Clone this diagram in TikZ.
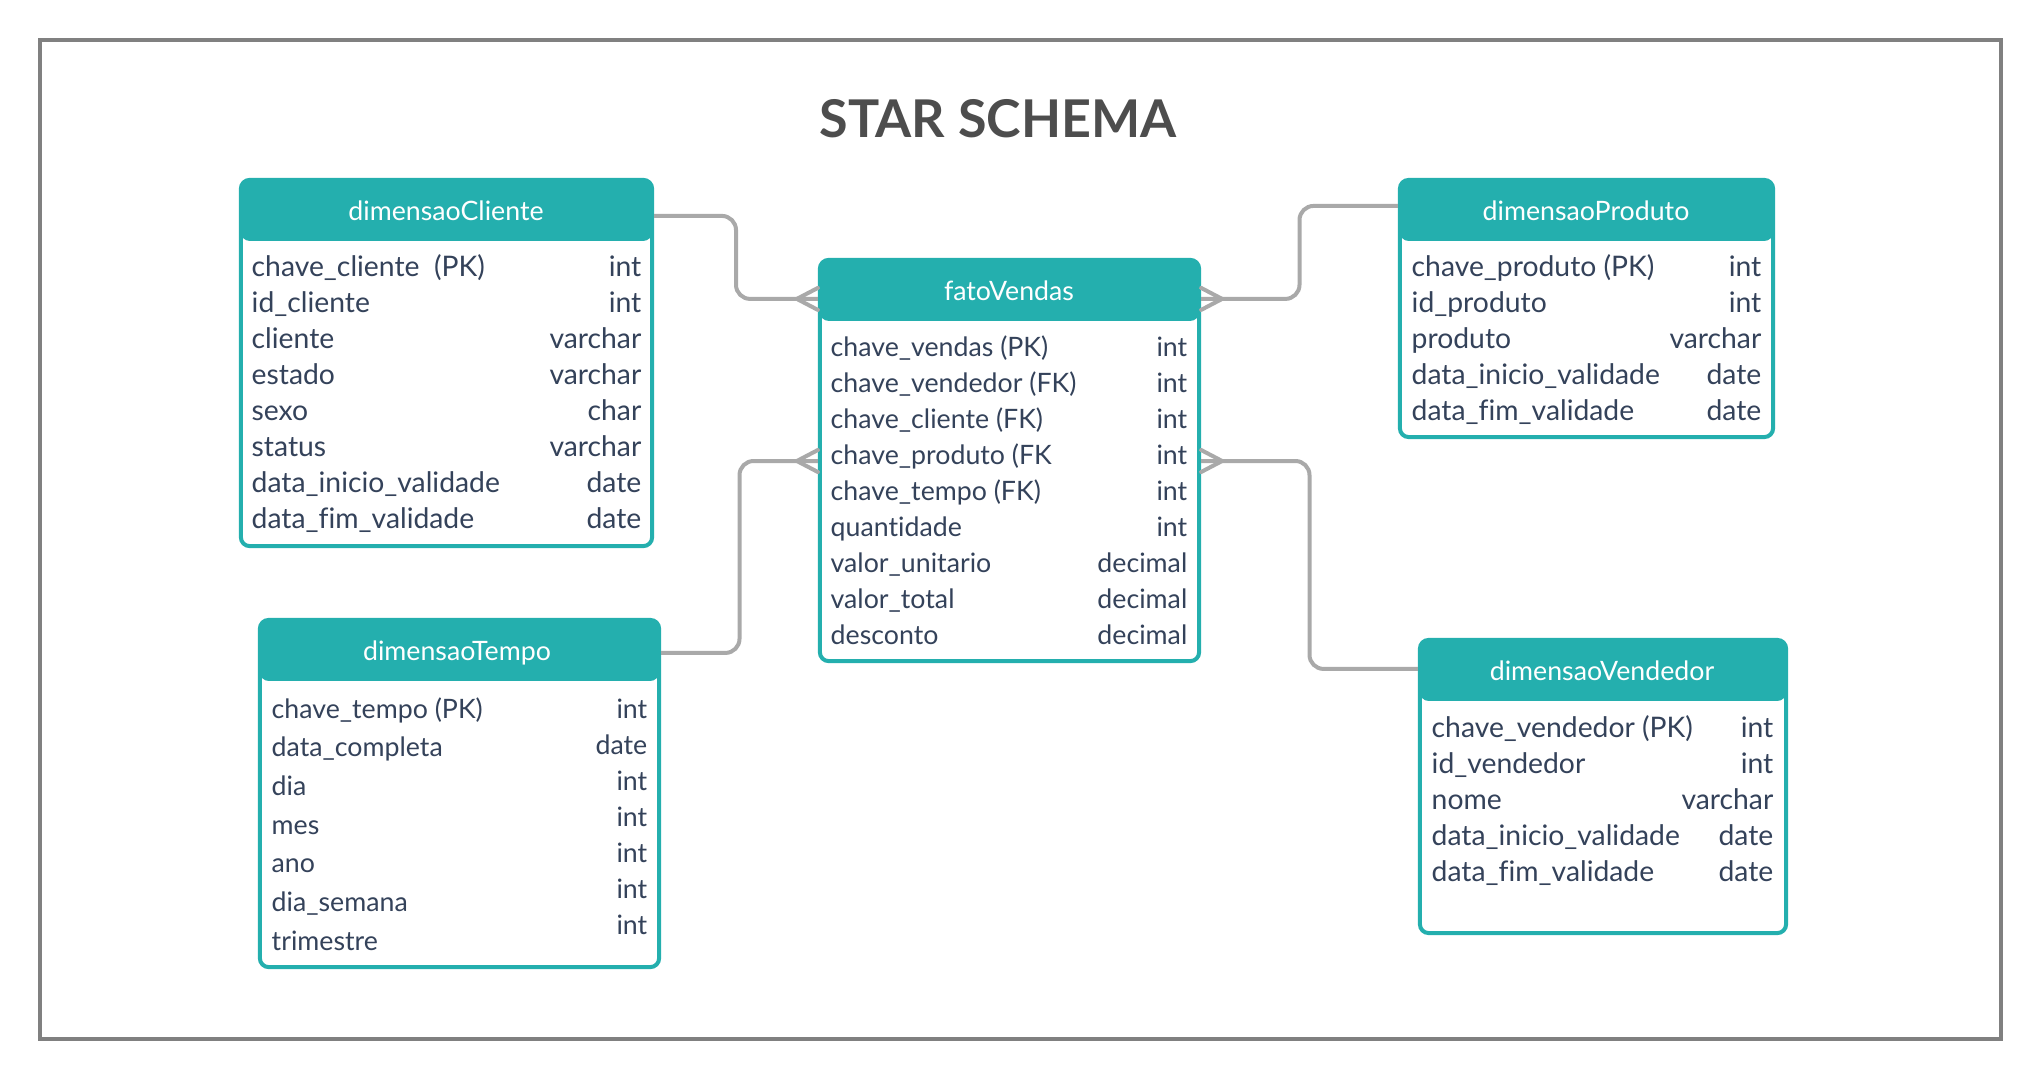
\documentclass[tikz,border=0pt]{standalone}
\usepackage{fontspec}
\setmainfont{Lato}[Ligatures=NoCommon]
\usepackage{tikz}
\usetikzlibrary{calc}
\definecolor{tealbox}{HTML}{24AFAE}
\definecolor{ink}{HTML}{34425A}
\definecolor{linkgray}{HTML}{A9A9A9}
\definecolor{framegray}{HTML}{808080}
\definecolor{titlegray}{HTML}{4D4D4D}

\begin{document}
\begin{tikzpicture}[x=0.01cm, y=-0.01cm,
  tbl/.style={draw=tealbox, line width=1.14pt, rounded corners=2.5pt, fill=white, inner sep=0pt,
    path picture={\fill[tealbox] (path picture bounding box.north west) rectangle ([yshift=-0.61cm]path picture bounding box.north east);}},
  head/.style={text=white, inner sep=0pt, anchor=base, font=\fontsize{7.6}{9}\selectfont},
  fld/.style={text=ink, inner sep=0pt, anchor=base west, font=\fontsize{8.05}{10}\selectfont},
  typ/.style={text=ink, inner sep=0pt, anchor=base east, font=\fontsize{8.05}{10}\selectfont},
  narrow/.style={font=\fontsize{7.6}{10}\selectfont},
  link/.style={draw=linkgray, line width=1.14pt, rounded corners=4pt},
  foot/.style={draw=linkgray, line width=1.14pt, line cap=round}]
\useasboundingbox (0,0) rectangle (2041,1081);
\draw[framegray, line width=1.1pt] (40,40) rectangle (2001,1039);
\node[text=titlegray, anchor=base, font=\bfseries\fontsize{14.8}{18}\selectfont] (ttl) at (998,137) {STAR SCHEMA};

% tables
\node[tbl, minimum width=4.11cm, minimum height=3.66cm] (cliente) at (446.5,363) {};
\node[tbl, minimum width=3.79cm, minimum height=4.01cm] (fato) at (1009.5,460.5) {};
\node[tbl, minimum width=3.73cm, minimum height=2.57cm] (produto) at (1586.5,308.5) {};
\node[tbl, minimum width=3.99cm, minimum height=3.47cm] (tempo) at (459.5,793.5) {};
\node[tbl, minimum width=3.66cm, minimum height=2.93cm] (vendedor) at (1603,786.5) {};

\node[head] (cliente-h) at (446,220) {dimensaoCliente};
\node[head] (fato-h) at (1009,300) {fatoVendas};
\node[head] (produto-h) at (1586,220) {dimensaoProduto};
\node[head] (tempo-h) at (457,660) {dimensaoTempo};
\node[head] (vendedor-h) at (1602,680) {dimensaoVendedor};

\foreach \n/\t [count=\i] in {chave\_cliente\ \ (PK)/int, id\_cliente/int, cliente/varchar, estado/varchar,
    sexo/char, status/varchar, data\_inicio\_validade/date, data\_fim\_validade/date} {
  \node[fld] (cliente-n\i) at (251,{240+36*\i}) {\n};
  \node[typ] (cliente-t\i) at (642,{240+36*\i}) {\t};
}
\foreach \n/\t [count=\i] in {chave\_vendas (PK)/int, chave\_vendedor (FK)/int, chave\_cliente (FK)/int,
    chave\_produto (FK/int, chave\_tempo (FK)/int, quantidade/int, valor\_unitario/decimal,
    valor\_total/decimal, desconto/decimal} {
  \node[fld, narrow] (fato-n\i) at (830,{320+36*\i}) {\n};
  \node[typ, narrow] (fato-t\i) at (1188,{320+36*\i}) {\t};
}
\foreach \n/\t [count=\i] in {chave\_produto (PK)/int, id\_produto/int, produto/varchar,
    data\_inicio\_validade/date, data\_fim\_validade/date} {
  \node[fld] (produto-n\i) at (1411,{240+36*\i}) {\n};
  \node[typ] (produto-t\i) at (1762,{240+36*\i}) {\t};
}
\foreach \n/\t [count=\i] in {chave\_tempo (PK)/int, data\_completa/date, dia/int, mes/int,
    ano/int, dia\_semana/int, trimestre/int} {
  \node[fld, narrow] (tempo-n\i) at (271,{679.3+38.7*\i}) {\n};
  \node[typ, narrow] (tempo-t\i) at (648,{682+36*\i}) {\t};
}
\foreach \n/\t [count=\i] in {chave\_vendedor (PK)/int, id\_vendedor/int, nome/varchar,
    data\_inicio\_validade/date, data\_fim\_validade/date} {
  \node[fld] (vendedor-n\i) at (1431,{701+36*\i}) {\n};
  \node[typ] (vendedor-t\i) at (1774,{701+36*\i}) {\t};
}

% connector ends
\coordinate (c1) at ([yshift=-0.38cm]cliente.north east);
\coordinate (f1) at ([yshift=-0.41cm]fato.north west);
\coordinate (f2) at ([yshift=-0.41cm]fato.north east);
\coordinate (p1) at ([yshift=-0.28cm]produto.north west);
\coordinate (t1) at ([yshift=-0.35cm]tempo.north east);
\coordinate (f3) at ([yshift=-2.03cm]fato.north west);
\coordinate (f4) at ([yshift=-2.03cm]fato.north east);
\coordinate (v1) at ([yshift=-0.31cm]vendedor.north west);

\draw[link] (c1) -| ($(c1)!.5!(f1)$) |- (f1);
\draw[link] (f2) -| ($(f2)!.5!(p1)$) |- (p1);
\draw[link] (t1) -| ($(t1)!.5!(f3)$) |- (f3);
\draw[link] (f4) -| ($(f4)!.5!(v1)$) |- (v1);

% crow's feet
\draw[foot] ([xshift=-0.21cm]f1) -- ([yshift=0.11cm]f1) ([xshift=-0.21cm]f1) -- ([yshift=-0.11cm]f1);
\draw[foot] ([xshift=0.21cm]f2) -- ([yshift=0.11cm]f2) ([xshift=0.21cm]f2) -- ([yshift=-0.11cm]f2);
\draw[foot] ([xshift=-0.21cm]f3) -- ([yshift=0.11cm]f3) ([xshift=-0.21cm]f3) -- ([yshift=-0.11cm]f3);
\draw[foot] ([xshift=0.21cm]f4) -- ([yshift=0.11cm]f4) ([xshift=0.21cm]f4) -- ([yshift=-0.11cm]f4);
\end{tikzpicture}
\end{document}
